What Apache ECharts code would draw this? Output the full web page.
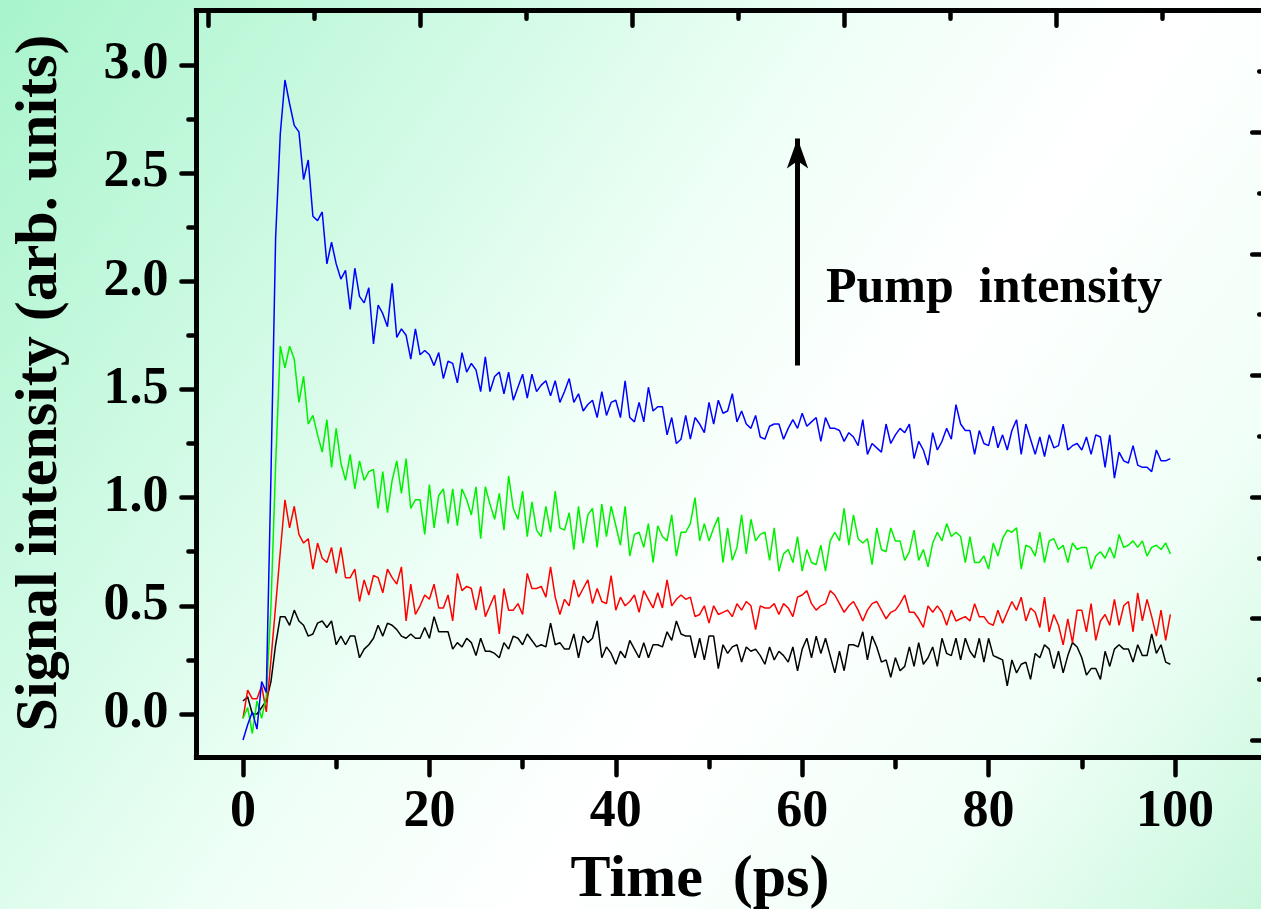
<!DOCTYPE html>
<html><head><meta charset="utf-8">
<script src="https://cdn.jsdelivr.net/npm/echarts@6/dist/echarts.min.js"></script>
<style>html,body{margin:0;padding:0;background:#fff;} #c{width:1261px;height:909px;}</style>
</head><body><div id="c"></div>
<script>
// sampling grid of the traces (ps)
const timeStart = 0;
const timeStep = 0.5;

// highest pump intensity
const blueValues = [
-0.12,-0.05,0.01,-0.07,0.15,0.10,1.10,2.20,2.68,2.93,
2.82,2.72,2.69,2.47,2.56,2.30,2.28,2.32,2.08,2.18,
2.08,2.01,2.05,1.87,2.06,1.93,1.90,1.97,1.71,1.89,
1.85,1.79,1.99,1.74,1.78,1.75,1.64,1.78,1.66,1.68,
1.66,1.61,1.67,1.55,1.63,1.62,1.53,1.67,1.58,1.62,
1.59,1.49,1.65,1.49,1.56,1.58,1.48,1.58,1.45,1.51,
1.57,1.46,1.57,1.49,1.52,1.54,1.47,1.54,1.44,
1.49,1.55,1.44,1.48,1.40,1.43,1.45,1.37,1.49,1.38,
1.44,1.45,1.37,1.54,1.37,1.35,1.44,1.35,1.51,1.40,
1.42,1.42,1.29,1.37,1.25,1.27,1.38,1.27,1.37,1.34,
1.30,1.44,1.34,1.45,1.39,1.40,1.48,1.35,1.40,1.34,
1.32,1.38,1.28,1.27,1.33,1.34,1.34,1.27,1.32,1.36,
1.32,1.39,1.33,1.35,1.37,1.26,1.37,1.32,1.32,1.31,
1.26,1.30,1.28,1.24,1.36,1.20,1.25,1.23,1.21,1.34,
1.25,1.29,
1.32,1.30,1.34,1.18,1.26,1.22,1.15,1.30,1.22,1.26,
1.32,1.27,1.43,1.34,1.31,1.31,1.20,1.31,1.25,1.24,
1.33,1.23,1.29,1.22,1.31,1.36,1.20,1.34,1.27,1.20,
1.28,1.19,1.29,1.23,1.24,1.34,1.22,1.24,1.25,1.22,
1.28,1.20,1.29,1.28,1.14,1.29,1.09,1.21,1.17,1.16,
1.24,1.15,1.14,1.14,1.12,1.22,1.17,1.17,1.18
];
const greenValues = [
-0.02,0.03,-0.09,0.06,-0.02,0.08,0.50,1.15,
1.70,1.60,1.70,1.64,1.44,1.56,1.34,1.38,1.29,1.21,
1.36,1.14,1.32,1.16,1.08,1.20,1.04,1.17,1.08,1.12,
1.13,0.95,1.12,0.93,1.08,1.17,1.02,1.18,0.95,0.99,
0.99,0.83,1.06,0.86,1.01,1.04,0.88,1.04,0.87,1.04,
0.99,0.92,1.05,0.81,1.05,0.97,0.90,1.02,0.85,1.10,
0.95,0.90,1.03,0.82,0.98,0.85,0.82,0.96,0.84,1.03,
0.86,
0.85,0.93,0.76,0.96,0.79,0.92,0.95,0.77,0.97,0.82,
0.96,0.87,0.78,0.96,0.73,0.83,0.84,0.77,0.88,0.70,
0.87,0.82,0.80,0.92,0.73,0.84,0.84,0.88,1.00,0.80,
0.88,0.80,0.86,0.91,0.70,0.86,0.71,0.77,0.92,0.74,
0.90,0.80,0.83,0.84,0.71,0.86,0.66,0.74,0.76,0.70,
0.82,0.66,0.76,0.70,0.69,0.78,0.66,0.80,0.84,0.80,
0.95,0.78,0.92,0.81,0.79,0.81,0.69,0.86,0.76,0.75,
0.86,0.80,
0.80,0.71,0.75,0.85,0.71,0.76,0.68,0.79,0.84,0.80,
0.88,0.82,0.84,0.82,0.70,0.82,0.70,0.70,0.73,0.67,
0.79,0.73,0.81,0.85,0.84,0.86,0.67,0.78,0.77,0.73,
0.84,0.70,0.80,0.81,0.76,0.78,0.70,0.79,0.76,0.77,
0.77,0.67,0.73,0.75,0.72,0.77,0.72,0.83,0.77,0.78,
0.80,0.77,0.80,0.73,0.77,0.78,0.76,0.79,0.74
];
const redValues = [
-0.02,0.11,0.07,0.07,0.13,0.01,0.25,0.50,0.75,0.99,
0.86,0.96,0.83,0.79,0.81,0.67,0.79,0.72,0.70,0.77,
0.65,0.77,0.63,0.63,0.67,0.52,0.62,0.55,0.64,0.63,
0.56,0.67,0.63,0.60,0.68,0.43,0.60,0.46,0.50,0.55,
0.53,0.60,0.49,0.49,0.55,0.43,0.65,0.57,0.59,0.58,
0.48,0.59,0.45,0.50,0.55,0.37,0.58,0.48,0.48,0.51,
0.46,0.65,0.58,0.58,0.59,0.54,0.68,0.54,0.46,
0.53,0.50,0.62,0.54,0.58,0.62,0.51,0.58,0.52,0.51,
0.64,0.48,0.54,0.50,0.52,0.55,0.47,0.57,0.53,0.49,
0.56,0.49,0.62,0.50,0.53,0.55,0.53,0.54,0.45,0.46,
0.50,0.42,0.50,0.46,0.47,0.48,0.45,0.51,0.48,0.52,
0.50,0.39,0.50,0.49,0.49,0.51,0.46,0.51,0.49,0.45,
0.54,0.55,0.57,0.51,0.48,0.50,0.51,0.57,0.55,0.51,
0.47,0.50,0.52,0.48,0.43,0.48,0.51,0.52,0.48,0.44,
0.47,0.48,
0.51,0.55,0.47,0.47,0.44,0.40,0.50,0.47,0.50,0.47,
0.41,0.48,0.43,0.44,0.45,0.43,0.51,0.45,0.45,0.42,
0.41,0.48,0.42,0.47,0.52,0.48,0.54,0.43,0.49,0.47,
0.40,0.54,0.38,0.46,0.41,0.32,0.44,0.33,0.48,0.48,
0.38,0.51,0.34,0.43,0.46,0.41,0.53,0.41,0.50,0.52,
0.38,0.56,0.43,0.53,0.45,0.36,0.48,0.34,0.46
];
// lowest pump intensity
const blackValues = [
0.06,0.08,0.00,0.00,0.03,0.06,0.15,0.32,
0.45,0.45,0.41,0.48,0.43,0.41,0.36,0.37,0.42,0.43,
0.40,0.43,0.32,0.36,0.32,0.36,0.36,0.26,0.30,0.32,
0.35,0.41,0.36,0.42,0.41,0.39,0.36,0.35,0.37,0.35,
0.35,0.40,0.35,0.45,0.38,0.38,0.38,0.30,0.33,0.31,
0.35,0.33,0.27,0.35,0.29,0.29,0.28,0.26,0.33,0.30,
0.36,0.35,0.32,0.37,0.34,0.31,0.32,0.31,0.42,0.32,
0.33,
0.30,0.30,0.37,0.26,0.36,0.33,0.35,0.43,0.26,0.31,
0.28,0.23,0.29,0.26,0.34,0.30,0.26,0.33,0.26,0.32,
0.32,0.31,0.38,0.34,0.43,0.37,0.36,0.36,0.26,0.35,
0.25,0.36,0.36,0.21,0.32,0.28,0.31,0.32,0.24,0.31,
0.29,0.30,0.27,0.23,0.31,0.25,0.29,0.27,0.24,0.31,
0.20,0.30,0.35,0.26,0.36,0.28,0.35,0.27,0.19,0.29,
0.20,0.32,0.32,0.31,0.38,0.25,0.36,0.31,0.24,0.25,
0.17,0.26,
0.20,0.22,0.31,0.22,0.33,0.23,0.26,0.31,0.22,0.35,
0.28,0.27,0.35,0.25,0.35,0.29,0.26,0.35,0.24,0.35,
0.27,0.26,0.25,0.13,0.25,0.19,0.23,0.24,0.16,0.28,
0.26,0.32,0.30,0.21,0.29,0.19,0.27,0.33,0.31,0.26,
0.18,0.21,0.21,0.16,0.29,0.22,0.30,0.32,0.30,0.30,
0.24,0.32,0.27,0.27,0.37,0.28,0.32,0.24,0.23
];

// tick values
const xMajorTicks = [0, 20, 40, 60, 80, 100];
const xMinorTicks = [10, 30, 50, 70, 90];
const yMajorTicks = [0, 0.5, 1.0, 1.5, 2.0, 2.5, 3.0];
const yMinorTicks = [0.25, 0.75, 1.25, 1.75, 2.25, 2.75];
const topMajorTicks = [0, 1, 2, 3, 4];
const topMinorTicks = [0.5, 1.5, 2.5, 3.5, 4.5];
const rightMajorTicks = [0, 1, 2, 3, 4, 5];
const rightMinorTicks = [0.5, 1.5, 2.5, 3.5, 4.5, 5.5];

// arrow annotation (data coords)
const arrowTime = 59.5;
const arrowFrom = 1.61;
const arrowTo = 2.66;

const FONT = '"Liberation Serif","Times New Roman",serif';

function toPairs(vals) { return vals.map((v, i) => [timeStart + i * timeStep, v]); }

const axisLineStyle = { color: '#000', width: 5, cap: 'square' };
const tickStyle = { color: '#000', width: 4.5, cap: 'round' };

function frameAxis(extra) {
  return Object.assign({
    type: 'value', gridIndex: 0,
    axisLine: { show: true, onZero: false, lineStyle: axisLineStyle },
    axisLabel: { show: false },
    splitLine: { show: false },
    minorTick: { show: false }
  }, extra);
}
function tickOnlyAxis(extra) {
  return Object.assign({
    type: 'value', gridIndex: 0,
    axisLine: { show: false, onZero: false },
    axisLabel: { show: false },
    splitLine: { show: false }
  }, extra);
}

const chart = echarts.init(document.getElementById('c'), null, { renderer: 'canvas' });

const option = {
  animation: false,
  backgroundColor: {
    type: 'linear', x: 0, y: 0, x2: 1, y2: 1,
    colorStops: [
      { offset: 0, color: '#a8f4cc' },
      { offset: 0.45, color: '#effff7' },
      { offset: 0.62, color: '#ffffff' },
      { offset: 0.82, color: '#f0fff7' },
      { offset: 1, color: '#c8f7dc' }
    ]
  },
  grid: { left: 196.4, top: 10.7, width: 1071.8, height: 746.6, containLabel: false, outerBoundsMode: 'none' },
  xAxis: [
    frameAxis({
      position: 'bottom', min: -5, max: 110,
      axisTick: { show: true, inside: false, length: 18, customValues: xMajorTicks, lineStyle: tickStyle },
      axisLabel: { show: true, customValues: xMajorTicks, margin: 29, color: '#000', fontFamily: FONT, fontWeight: 'bold', fontSize: 52 }
    }),
    tickOnlyAxis({
      position: 'bottom', min: -5, max: 110,
      axisTick: { show: true, inside: false, length: 10, customValues: xMinorTicks, lineStyle: tickStyle }
    }),
    frameAxis({
      position: 'top', min: -0.0565, max: 5,
      axisTick: { show: true, inside: true, length: 15, customValues: topMajorTicks, lineStyle: tickStyle }
    }),
    tickOnlyAxis({
      position: 'top', min: -0.0565, max: 5,
      axisTick: { show: true, inside: true, length: 8, customValues: topMinorTicks, lineStyle: tickStyle }
    })
  ],
  yAxis: [
    frameAxis({
      position: 'left', min: -0.2, max: 3.25,
      axisTick: { show: true, inside: false, length: 15, customValues: yMajorTicks, lineStyle: tickStyle },
      axisLabel: { show: true, customValues: yMajorTicks, margin: 28, color: '#000', fontFamily: FONT, fontWeight: 'bold', fontSize: 52,
        formatter: v => Number(v).toFixed(1) }
    }),
    tickOnlyAxis({
      position: 'left', min: -0.2, max: 3.25,
      axisTick: { show: true, inside: false, length: 8, customValues: yMinorTicks, lineStyle: tickStyle }
    }),
    frameAxis({
      position: 'right', min: -0.14, max: 6,
      axisTick: { show: true, inside: true, length: 16, customValues: rightMajorTicks, lineStyle: tickStyle }
    }),
    tickOnlyAxis({
      position: 'right', min: -0.14, max: 6,
      axisTick: { show: true, inside: true, length: 9, customValues: rightMinorTicks, lineStyle: tickStyle }
    })
  ],
  series: [
    { name: 'I1', type: 'line', xAxisIndex: 0, yAxisIndex: 0, data: toPairs(blackValues), showSymbol: false, symbol: 'none',
      lineStyle: { color: '#000000', width: 1.5 }, itemStyle: { color: '#000000' }, silent: true },
    { name: 'I2', type: 'line', xAxisIndex: 0, yAxisIndex: 0, data: toPairs(redValues), showSymbol: false, symbol: 'none',
      lineStyle: { color: '#ff0000', width: 1.5 }, itemStyle: { color: '#ff0000' }, silent: true },
    { name: 'I3', type: 'line', xAxisIndex: 0, yAxisIndex: 0, data: toPairs(greenValues), showSymbol: false, symbol: 'none',
      lineStyle: { color: '#00f000', width: 1.5 }, itemStyle: { color: '#00f000' }, silent: true },
    { name: 'I4', type: 'line', xAxisIndex: 0, yAxisIndex: 0, data: toPairs(blueValues), showSymbol: false, symbol: 'none',
      lineStyle: { color: '#0000ff', width: 1.5 }, itemStyle: { color: '#0000ff' }, silent: true,
      markLine: {
        silent: true, animation: false,
        symbol: ['none', 'arrow'], symbolSize: [16, 30],
        lineStyle: { color: '#000', width: 5, type: 'solid' },
        itemStyle: { color: '#000' },
        label: { show: false },
        emphasis: { disabled: true },
        data: [[ { coord: [arrowTime, arrowFrom] }, { coord: [arrowTime, arrowTo] } ]]
      }
    }
  ],
  graphic: [
    { type: 'text', x: 700, y: 880, silent: true,
      style: { text: 'Time  (ps)', font: 'bold 60px ' + FONT, fill: '#000', textAlign: 'center', textVerticalAlign: 'middle', align: 'center', verticalAlign: 'middle' } },
    { type: 'text', x: 40, y: 383, rotation: Math.PI / 2, silent: true,
      style: { text: 'Signal intensity (arb. units)', font: 'bold 60px ' + FONT, fill: '#000', textAlign: 'center', textVerticalAlign: 'middle', align: 'center', verticalAlign: 'middle' } },
    { type: 'text', x: 826, y: 289, silent: true,
      style: { text: 'Pump  intensity', font: 'bold 50px ' + FONT, fill: '#000', textAlign: 'left', textVerticalAlign: 'middle', align: 'left', verticalAlign: 'middle' } }
  ]
};
chart.setOption(option);
</script>
</body></html>
